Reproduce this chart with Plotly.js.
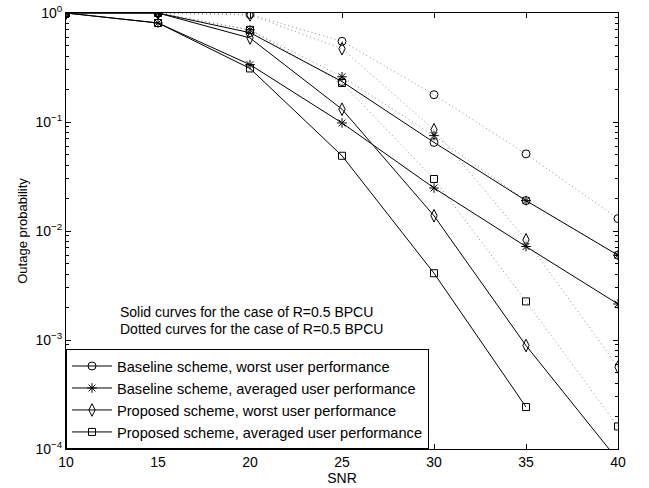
<!DOCTYPE html>
<html>
<head>
<meta charset="utf-8">
<script src="https://cdn.plot.ly/plotly-3.0.1.min.js"></script>
<style>html,body{margin:0;padding:0;background:#fff;}#chart{width:649px;height:488px;}</style>
</head>
<body>
<div id="chart"></div>
<script>
// SNR values
var snr = [10, 15, 20, 25, 30, 35, 40];

// Solid curves
var baseWorstSolid = [1, 1, 0.66, 0.235, 0.065, 0.019, 0.006];
var baseAvgSolid   = [1, 0.81, 0.336, 0.098, 0.0248, 0.0072, 0.00214];
var propWorstSolid = [1, 1, 0.59, 0.131, 0.0138, 0.00089, 0.000079];
var propAvgSolid   = [1, 0.81, 0.31, 0.049, 0.0041, 0.000243, null];

// Dotted curves
var baseWorstDot = [1, 1, 0.97, 0.55, 0.178, 0.051, 0.013];
var baseAvgDot   = [1, 1, 0.70, 0.26, 0.075, 0.019, 0.006];
var propWorstDot = [1, 1, 0.96, 0.47, 0.085, 0.0083, 0.000565];
var propAvgDot   = [1, 1, 0.70, 0.228, 0.030, 0.00226, 0.000161];

var names = [
  'Baseline scheme, worst user performance',
  'Baseline scheme, averaged user performance',
  'Proposed scheme, worst user performance',
  'Proposed scheme, averaged user performance'
];
var symbols = ['circle-open', 'asterisk-open', 'diamond-tall-open', 'square-open'];
var sizes = [8, 8, 9, 7];

// minor tick positions on the log axis (2..9 in each decade)
var minorTicks = [];
for (var d = -4; d < 0; d++) {
  for (var m = 2; m <= 9; m++) minorTicks.push(m * Math.pow(10, d));
}

var solid = [baseWorstSolid, baseAvgSolid, propWorstSolid, propAvgSolid];
var dotted = [baseWorstDot, baseAvgDot, propWorstDot, propAvgDot];

var traces = [];
for (var i = 0; i < 4; i++) {
  traces.push({
    x: snr, y: dotted[i], type: 'scatter', mode: 'lines+markers',
    showlegend: false,
    line: {color: '#8f8f8f', width: 1, dash: '1px,3px'},
    marker: {symbol: symbols[i], size: sizes[i], color: '#000', line: {color: '#000', width: 1}}
  });
}
for (var j = 0; j < 4; j++) {
  traces.push({
    x: snr, y: solid[j], type: 'scatter', mode: 'lines+markers',
    name: names[j],
    line: {color: '#000', width: 1},
    marker: {symbol: symbols[j], size: sizes[j], color: '#000', line: {color: '#000', width: 1}}
  });
}

var fam = 'Liberation Sans, Arial, Helvetica, sans-serif';
var fnt = {family: fam, size: 14, color: '#000'};

var layout = {
  width: 649, height: 488,
  margin: {l: 66, r: 31, t: 13, b: 39},
  paper_bgcolor: '#fff', plot_bgcolor: '#fff',
  font: fnt,
  showlegend: true,
  legend: {
    x: 0, y: 0, xanchor: 'left', yanchor: 'bottom',
    bordercolor: '#000', borderwidth: 1, bgcolor: '#fff',
    font: {family: fam, size: 14.6, color: '#000'},
    tracegroupgap: 0, itemwidth: 40
  },
  xaxis: {
    range: [10, 40], tickvals: [10, 15, 20, 25, 30, 35, 40],
    ticks: 'inside', ticklen: 5, tickcolor: '#000',
    showline: true, linecolor: '#000', linewidth: 1, mirror: 'ticks',
    showgrid: false, zeroline: false,
    tickfont: fnt,
    title: {text: 'SNR', font: fnt, standoff: 0}
  },
  yaxis: {
    type: 'log', range: [-4, 0],
    tickvals: [1e-4, 1e-3, 1e-2, 1e-1, 1],
    ticktext: ['10<sup>−4</sup>', '10<sup>−3</sup>', '10<sup>−2</sup>', '10<sup>−1</sup>', '10<sup>0</sup>'],
    ticks: 'inside', ticklen: 5, tickcolor: '#000',
    minor: {tickmode: 'array', tickvals: minorTicks, ticks: 'inside', ticklen: 3, tickcolor: '#000', showgrid: false},
    showline: true, linecolor: '#000', linewidth: 1, mirror: 'ticks',
    showgrid: false, zeroline: false,
    tickfont: fnt,
    title: {text: 'Outage probability', font: {family: fam, size: 13, color: '#000'}, standoff: 4}
  },
  annotations: [
    {xref: 'x', yref: 'paper', x: 12.85, y: 0.315, xanchor: 'left', yanchor: 'middle',
     text: 'Solid curves for the case of R=0.5 BPCU', showarrow: false, font: fnt},
    {xref: 'x', yref: 'paper', x: 12.85, y: 0.275, xanchor: 'left', yanchor: 'middle',
     text: 'Dotted curves for the case of R=0.5 BPCU', showarrow: false, font: fnt}
  ]
};

Plotly.newPlot('chart', traces, layout, {staticPlot: true, displayModeBar: false});
</script>
</body>
</html>
